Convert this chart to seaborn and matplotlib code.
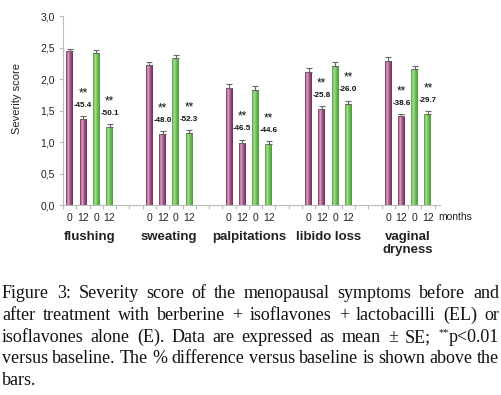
import numpy as np
import pandas as pd
import matplotlib
matplotlib.use("Agg")
import matplotlib.pyplot as plt
import seaborn as sns
from matplotlib.colors import LinearSegmentedColormap
from matplotlib.ticker import FuncFormatter

# data
symptoms = ["flushing", "sweating", "palpitations", "libido loss", "vaginal\ndryness"]
el_0 = [2.44, 2.22, 1.86, 2.11, 2.29]
el_12 = [1.36, 1.13, 0.99, 1.52, 1.41]
e_0 = [2.41, 2.33, 1.83, 2.21, 2.16]
e_12 = [1.24, 1.14, 0.97, 1.60, 1.44]
el_0_se = [0.04, 0.05, 0.06, 0.06, 0.06]
el_12_se = [0.05, 0.04, 0.05, 0.05, 0.04]
e_0_se = [0.05, 0.06, 0.06, 0.06, 0.05]
e_12_se = [0.05, 0.05, 0.05, 0.06, 0.05]
el_pct = ["-45.4", "-48.0", "-46.5", "-25.8", "-38.6"]
e_pct = ["-50.1", "-52.3", "-44.6", "-26.0", "-29.7"]
month_labels = ["0", "12", "0", "12"]

caption_lines = [
    "Figure 3: Severity score of the menopausal symptoms before and",
    "after treatment with berberine + isoflavones + lactobacilli (EL) or",
    "isoflavones alone (E). Data are expressed as mean \u00b1 SE; **p<0.01",
    "versus baseline. The % difference versus baseline is shown above the",
    "bars.",
]

# build table: 6 slots per symptom (4 bars + 2 gaps)
rows = []
for i, s in enumerate(symptoms):
    vals = [el_0[i], el_12[i], e_0[i], e_12[i]]
    ses = [el_0_se[i], el_12_se[i], e_0_se[i], e_12_se[i]]
    grp = ["EL", "EL", "E", "E"]
    for j in range(4):
        rows.append({"slot": f"s{i*6+j}", "score": vals[j], "se": ses[j],
                     "group": grp[j], "month": month_labels[j], "sym": i, "k": j})
df = pd.DataFrame(rows)
n_slots = 6 * len(symptoms) - 2
order = [f"s{k}" for k in range(n_slots)]

purple_dark, purple_light = "#7a285c", "#dcaacb"
green_dark, green_light = "#47a033", "#aede98"

fig = plt.figure(figsize=(5.01, 3.95), dpi=100)
ax = fig.add_axes([0.126, 0.481, 0.752, 0.478])
sns.barplot(data=df, x="slot", y="score", hue="group", order=order,
            palette={"EL": purple_dark, "E": green_dark}, dodge=False,
            saturation=1, width=0.52, errorbar=None, legend=False, ax=ax)

# gradient fill on bars
cm_purple = LinearSegmentedColormap.from_list(
    "p", [(0, purple_dark), (0.3, purple_light), (0.6, "#a05a86"), (1, purple_dark)])
cm_green = LinearSegmentedColormap.from_list(
    "g", [(0, green_dark), (0.3, green_light), (0.6, "#72c05c"), (1, green_dark)])
grad = np.linspace(0, 1, 64).reshape(1, -1)
for p in list(ax.patches):
    if p.get_height() <= 0:
        continue
    x0 = p.get_x()
    w = p.get_width()
    h = p.get_height()
    k = int(round(x0 + w / 2)) % 6
    cm = cm_purple if k < 2 else cm_green
    im = ax.imshow(grad, cmap=cm, extent=(x0, x0 + w, 0, h), aspect="auto",
                   origin="lower", zorder=p.get_zorder() + 0.1)
    im.set_clip_path(p)

# error bars and annotations
pos = df["sym"] * 6 + df["k"]
ax.errorbar(pos, df["score"], yerr=[np.zeros(len(df)), df["se"]], fmt="none",
            ecolor="#666666", elinewidth=0.8, capsize=2, capthick=0.8, zorder=5)
for i in range(len(symptoms)):
    for k, val, se, txt in [(1, el_12[i], el_12_se[i], el_pct[i]), (3, e_12[i], e_12_se[i], e_pct[i])]:
        x = i * 6 + k
        top = val + se
        ax.text(x, top + 0.17, txt, ha="center", va="center", fontsize=5.8,
                fontweight="bold", color="#111111", family="Liberation Sans")
        ax.text(x, top + 0.36, "**", ha="center", va="center", fontsize=8.5,
                color="#111111", family="Liberation Sans")

ax.set_xlim(-0.5, n_slots - 0.1)
ax.set_ylim(0, 3.0)
ax.set_yticks(np.arange(0, 3.01, 0.5))
ax.yaxis.set_major_formatter(FuncFormatter(lambda v, _: f"{v:.1f}".replace(".", ",")))
tick_pos = [i * 6 + k for i in range(len(symptoms)) for k in range(4)]
ax.set_xticks(tick_pos)
ax.set_xticklabels(month_labels * len(symptoms))
ax.set_xticks(np.arange(-0.5, n_slots, 1.0), minor=True)
ax.tick_params(axis="x", which="major", length=0, pad=6, labelsize=7.5, labelcolor="#222222")
ax.tick_params(axis="x", which="minor", length=3, color="#bbbbbb", width=0.8)
ax.tick_params(axis="y", length=3, color="#bbbbbb", width=0.8, labelsize=7.5,
               labelcolor="#222222", pad=3)
for lab in ax.get_xticklabels() + ax.get_yticklabels():
    lab.set_family("Liberation Sans")
ax.set_xlabel("")
ax.set_ylabel("Severity score", fontsize=8, family="Liberation Sans", color="#222222")
ax.yaxis.set_label_coords(-0.108, 0.566)
for side in ["top", "right"]:
    ax.spines[side].set_visible(False)
for side in ["left", "bottom"]:
    ax.spines[side].set_color("#bbbbbb")
    ax.spines[side].set_linewidth(0.8)

trans = ax.get_xaxis_transform()
ax.text(n_slots - 0.2, -0.063, "months", transform=trans, ha="left", va="center",
        fontsize=7.5, color="#222222", family="Liberation Sans")
for i, s in enumerate(symptoms):
    ax.text(i * 6 + 1.5, -0.14, s, transform=trans, ha="center", va="top",
            fontsize=9.5, fontweight="bold", color="#222222", family="Liberation Sans",
            linespacing=1.05)

# justified caption
renderer = fig.canvas.get_renderer()
W, H = 501.0, 395.0
left_px, right_px = 2.0, 499.0
base_y = [298, 320, 342, 363, 385]
cap_font = dict(fontsize=13.0, family="Liberation Serif", color="#111111")
for li, line in enumerate(caption_lines):
    words = line.split(" ")
    items = []
    for w in words:
        if w.startswith("**"):
            t1 = fig.text(0, 0, "**", fontsize=7.5, family="Liberation Serif", color="#111111", va="baseline")
            t2 = fig.text(0, 0, w[2:], va="baseline", **cap_font)
            items.append([t1, t2])
        else:
            items.append([fig.text(0, 0, w, va="baseline", **cap_font)])
    widths = []
    for it in items:
        widths.append(sum(t.get_window_extent(renderer).width for t in it))
    if li < len(caption_lines) - 1 and len(items) > 1:
        gap = (right_px - left_px - sum(widths)) / (len(items) - 1)
    else:
        gap = 4.0
    x = left_px
    y = (H - base_y[li]) / H
    for it, wd in zip(items, widths):
        xx = x
        for t in it:
            dy = 7.0 / H if t.get_text() == "**" else 0
            t.set_position((xx / W, y + dy))
            xx += t.get_window_extent(renderer).width
        x += wd + gap

fig.savefig("out.png", dpi=100)
